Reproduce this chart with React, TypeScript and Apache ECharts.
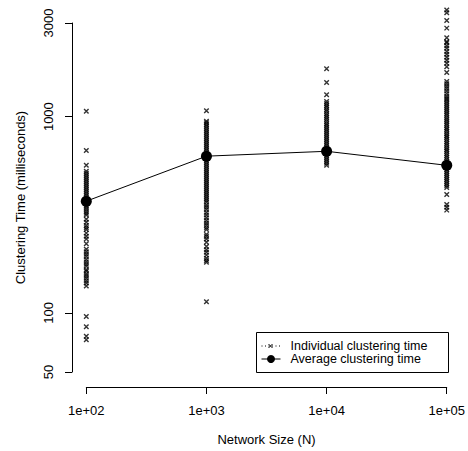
import React, { useEffect, useRef } from "react";
import * as echarts from "echarts";

// Network sizes (x categories on a log axis)
const networkSizes = [100, 1000, 10000, 100000];
const xTickLabels = ["1e+02", "1e+03", "1e+04", "1e+05"];
const yTickValues = [50, 100, 1000, 3000];

// Individual clustering times (ms), per network size
const timesN100 = [
  1064, 672, 565,
  527, 515, 503, 491, 480, 469, 458, 447, 437, 427, 417, 407, 398, 389, 380, 371, 362, 354, 346, 338, 330, 322, 315,
  300, 290, 279, 272, 266, 255, 246, 238, 225, 211, 205, 199, 194, 187, 182, 177, 173, 166, 163, 158, 154, 150, 146, 142, 137,
  96, 85, 76, 73,
];
const timesN1000 = [
  1072, 947, 930, 911,
  893, 872, 852, 832, 813, 794, 776, 758, 740, 723, 706, 690, 674, 658, 643, 628, 614, 599, 585, 572, 559, 546, 533, 521,
  509, 497, 485, 474, 463, 452, 442, 432, 422, 412, 402, 393, 384, 375, 366,
  355, 345, 336, 325, 315, 305, 296, 287, 280, 272, 266,
  251, 245, 238, 229, 218, 210, 204, 197, 190, 185, 181,
  114,
];
const timesN10000 = [
  1754, 1494, 1294,
  1196, 1168, 1141, 1115, 1089, 1064, 1039, 1015, 992, 969, 946, 924, 903, 882, 862, 842, 822, 803, 785, 767, 749, 732,
  715, 698, 682, 666, 651, 636, 621, 607, 593, 579, 566,
];
const timesN100000 = [
  3499, 3380, 3088, 2825, 2521, 2405, 2378, 2300, 2230, 2150, 2080, 2010, 1940, 1870, 1795, 1680,
  1512, 1470, 1430, 1390, 1350, 1310, 1270, 1240,
  1220, 1192, 1164, 1137, 1111, 1085, 1060, 1036, 1012, 988, 965, 943, 921, 900, 879, 859, 839, 819, 800, 782, 764, 746,
  729, 712, 695, 679, 664, 648, 633, 619, 604, 590, 577, 563, 550, 538, 525, 513, 501, 490, 478, 467, 456, 446, 436,
  401, 357, 345, 334,
];
// Average clustering time (ms)
const averageTimes = [371, 629, 666, 565];

const FONT = "'Liberation Sans', Arial, Helvetica, sans-serif";

export default function App() {
  const ref = useRef<HTMLDivElement>(null);

  useEffect(() => {
    document.body.style.margin = "0";
    if (!ref.current) return;
    const chart = echarts.init(ref.current, undefined, { renderer: "svg" });

    const groups = [timesN100, timesN1000, timesN10000, timesN100000];
    const individual: number[][] = [];
    groups.forEach((g, i) => g.forEach((v) => individual.push([networkSizes[i], v])));
    const avg = networkSizes.map((n, i) => [n, averageTimes[i]]);

    chart.setOption({
      animation: false,
      backgroundColor: "#ffffff",
      textStyle: { fontFamily: FONT, color: "#000" },
      grid: { left: 86.3, right: 18.7, top: 23, bottom: 78, containLabel: false },
      xAxis: {
        type: "log",
        logBase: 10,
        min: 100,
        max: 100000,
        offset: 15,
        name: "Network Size (N)",
        nameLocation: "middle",
        nameGap: 46,
        nameTextStyle: { fontSize: 13, color: "#000", fontFamily: FONT },
        axisLine: { show: true, lineStyle: { color: "#000", width: 1 } },
        axisTick: { show: true, length: 7, lineStyle: { color: "#000" } },
        axisLabel: {
          fontSize: 13,
          color: "#000",
          fontFamily: FONT,
          margin: 17,
          formatter: (v: number) => xTickLabels[Math.round(Math.log10(v)) - 2] ?? "",
        },
        splitLine: { show: false },
        minorTick: { show: false },
      },
      yAxis: {
        type: "log",
        logBase: 10,
        min: 50,
        max: 3000,
        offset: 14.3,
        name: "Clustering Time (milliseconds)",
        nameLocation: "middle",
        nameGap: 45,
        nameRotate: 90,
        nameTextStyle: { fontSize: 13, color: "#000", fontFamily: FONT },
        axisLine: { show: true, lineStyle: { color: "#000", width: 1 } },
        axisTick: { show: true, length: 7, lineStyle: { color: "#000" }, customValues: yTickValues },
        axisLabel: {
          fontSize: 13,
          color: "#000",
          fontFamily: FONT,
          margin: 17,
          rotate: 90,
          customValues: yTickValues,
          formatter: (v: number) => String(Math.round(v)),
        },
        splitLine: { show: false },
      },
      series: [
        {
          name: "Individual clustering time",
          type: "scatter",
          data: individual,
          symbol: "path://M0,0L10,10M10,0L0,10",
          symbolSize: 4.5,
          clip: false,
          itemStyle: { color: "none", borderColor: "#000", borderWidth: 1.4 },
          z: 2,
        },
        {
          name: "Average clustering time",
          type: "line",
          data: avg,
          symbol: "circle",
          symbolSize: 11,
          clip: false,
          itemStyle: { color: "#000" },
          lineStyle: { color: "#000", width: 1 },
          z: 3,
        },
      ],
      graphic: [
        {
          type: "group",
          left: 256,
          top: 332,
          children: [
            { type: "rect", shape: { x: 0, y: 0, width: 192, height: 40 }, style: { fill: "#fff", stroke: "#000", lineWidth: 1 } },
            { type: "line", shape: { x1: 5, y1: 13.5, x2: 24, y2: 13.5 }, style: { stroke: "#000", lineWidth: 1, lineDash: [1, 2.5] } },
            { type: "line", shape: { x1: 12, y1: 11.5, x2: 16, y2: 15.5 }, style: { stroke: "#000", lineWidth: 1 } },
            { type: "line", shape: { x1: 16, y1: 11.5, x2: 12, y2: 15.5 }, style: { stroke: "#000", lineWidth: 1 } },
            { type: "line", shape: { x1: 5, y1: 26.5, x2: 24, y2: 26.5 }, style: { stroke: "#000", lineWidth: 1 } },
            { type: "circle", shape: { cx: 14.5, cy: 26.5, r: 4 }, style: { fill: "#000" } },
            {
              type: "text",
              x: 34,
              y: 13.5,
              style: { text: "Individual clustering time", fontSize: 12.5, lineHeight: 12.5, fontFamily: FONT, fill: "#000", verticalAlign: "middle" },
            },
            {
              type: "text",
              x: 34,
              y: 26.5,
              style: { text: "Average clustering time", fontSize: 12.5, lineHeight: 12.5, fontFamily: FONT, fill: "#000", verticalAlign: "middle" },
            },
          ],
        },
      ],
    });

    return () => chart.dispose();
  }, []);

  return <div ref={ref} style={{ width: 468, height: 451 }} />;
}
